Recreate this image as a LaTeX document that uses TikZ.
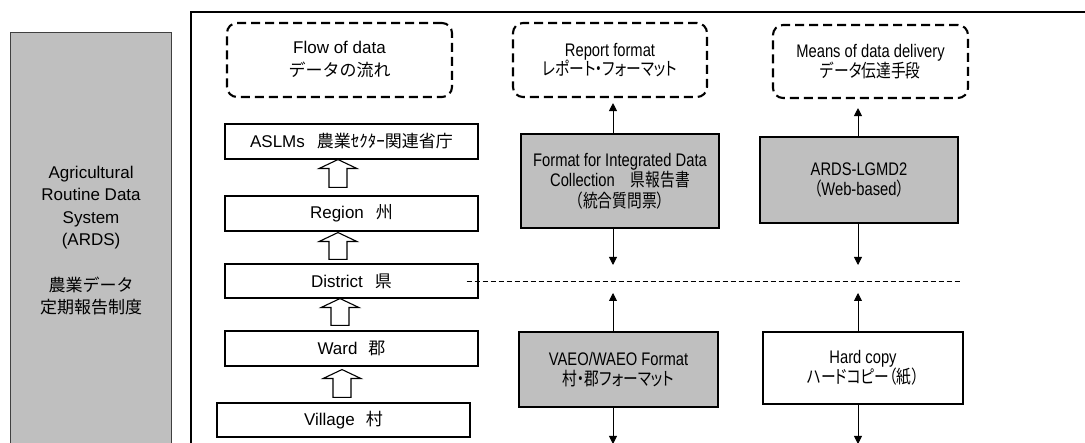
\documentclass[tikz,border=0pt]{standalone}
\usepackage{fontspec}
\setmainfont{Liberation Sans}
\newfontfamily\jp{Noto Sans CJK JP}
\newfontfamily\nar[FakeStretch=0.81]{Liberation Sans}
\newfontfamily\narjp[FakeStretch=0.81,RawFeature=+palt]{Noto Sans CJK JP}
\usetikzlibrary{arrows.meta,calc}
\definecolor{boxgray}{RGB}{191,191,191}
\newcommand\hup[5]{%
  \coordinate (hb) at ($(#1,0 |- #2.north)+(0,-#3)$);
  \coordinate (ht) at ($(#1,0 |- #4.south)+(0,#5)$);
  \draw[harrow] ($(hb)+(-9,0)$) -- ($(ht)+(-9,9)$) -- ($(ht)+(-19,9)$) -- (ht)
    -- ($(ht)+(19,9)$) -- ($(ht)+(9,9)$) -- ($(hb)+(9,0)$) -- cycle;}
\begin{document}
\begin{tikzpicture}[x=1pt,y=-1pt,
  lbox/.style={draw, line width=1.1pt, minimum width=253pt, inner sep=0pt,
    font=\fontsize{17}{20}\selectfont},
  rbox/.style={draw, line width=1.1pt, inner sep=0pt, align=center,
    font=\nar\fontsize{18.2}{20.5}\selectfont},
  dbox/.style={draw, line width=2.1pt, dash pattern=on 9pt off 5pt, rounded corners=10pt,
    inner sep=0pt, align=center},
  harrow/.style={draw, line width=1.1pt, fill=white},
  tarrow/.style={line width=0.9pt, -{Triangle[length=8pt,width=8pt]}},
]
\useasboundingbox (0,0) rectangle (1085,443);
\clip (0,0) rectangle (1085,443);
\fill[white] (0,0) rectangle (1085,443);

% left system box
\node[draw=black!75, line width=1.1pt, fill=boxgray, anchor=north west,
  minimum width=161pt, minimum height=416pt, inner sep=0pt, align=center,
  font=\fontsize{17}{22.5}\selectfont] (ards) at (10,32)
  {Agricultural\\Routine Data\\System\\(ARDS)\\[23pt]{\jp 農業データ}\\{\jp 定期報告制度}};

% main frame
\coordinate (fr1) at (1090,12);
\coordinate (fr2) at (191,12);
\coordinate (fr3) at (191,450);
\draw[line width=1.4pt] (fr1) -- (fr2) -- (fr3);

% headers
\node[dbox, minimum width=225pt, minimum height=74pt, font=\fontsize{17}{23}\selectfont]
  (flow) at (339.5,60) {Flow of data\\{\jp データの流れ}};
\node[dbox, minimum width=194pt, minimum height=74pt, font=\nar\fontsize{18.2}{19.5}\selectfont]
  (report) at (610,60) {Report format\\{\narjp レポート・フォーマット}};
\node[dbox, minimum width=195pt, minimum height=73pt, font=\nar\fontsize{18.2}{19.5}\selectfont]
  (means) at (870.5,61.5) {Means of data delivery\\{\narjp データ伝達手段}};

% flow of data column
\node[lbox, minimum height=35pt] (aslm) at (351.5,141.5) {ASLMs\hspace{12pt}{\jp 農業ｾｸﾀｰ関連省庁}};
\node[lbox, minimum height=35pt] (region) at (351.5,213.5) {Region\hspace{12pt}{\jp 州}};
\node[lbox, minimum height=34pt] (district) at (351.5,281) {District\hspace{12pt}{\jp 県}};
\node[lbox, minimum height=35pt] (ward) at (351.5,348.5) {Ward\hspace{11pt}{\jp 郡}};
\node[lbox, minimum height=34pt] (village) at (343.5,420) {Village\hspace{11pt}{\jp 村}};

\hup{338}{region}{8}{aslm}{0}
\hup{338}{district}{4}{region}{1}
\hup{340}{ward}{5}{district}{0}
\hup{342}{village}{5}{ward}{3}

% report format column
\node[rbox, fill=boxgray, minimum width=198pt, minimum height=94pt] (fmt) at (620,181)
  {Format for Integrated Data\\Collection\hspace{16pt}{\narjp 県報告書}\\{\narjp （統合質問票）}};
\node[rbox, fill=boxgray, minimum width=199pt, minimum height=75pt] (vaeo) at (618.5,369.5)
  {VAEO/WAEO Format\\{\narjp 村・郡フォーマット}};

% means column
\node[rbox, fill=boxgray, minimum width=198pt, minimum height=86pt] (lgmd) at (859,180)
  {ARDS-LGMD2\\{\narjp （}Web-based{\narjp ）}};
\node[rbox, fill=white, minimum width=200pt, minimum height=72pt] (hard) at (863,368)
  {Hard copy\\{\narjp ハードコピー（紙）}};

% dashed separator
\coordinate (sepL) at ($(district.east)+(-12,0)$);
\coordinate (sepR) at (960,281);
\draw[line width=0.9pt, dash pattern=on 5pt off 3pt] (sepL) -- (sepR);

% thin arrows
\coordinate (e1) at (613,265);
\coordinate (e2) at (858,265);
\coordinate (e3) at (613,293);
\coordinate (e4) at (858,293);
\coordinate (e5) at (613,444);
\coordinate (e6) at (858,444);
\draw[tarrow] (613,0 |- fmt.north) -- ($(613,0 |- report.south)+(0,5)$);
\draw[tarrow] (613,0 |- fmt.south) -- (e1);
\draw[tarrow] (613,0 |- vaeo.north) -- (e3);
\draw[tarrow] (613,0 |- vaeo.south) -- (e5);
\draw[tarrow] (858,0 |- lgmd.north) -- ($(858,0 |- means.south)+(0,9)$);
\draw[tarrow] (858,0 |- lgmd.south) -- (e2);
\draw[tarrow] (858,0 |- hard.north) -- (e4);
\draw[tarrow] (858,0 |- hard.south) -- (e6);
\end{tikzpicture}
\end{document}
